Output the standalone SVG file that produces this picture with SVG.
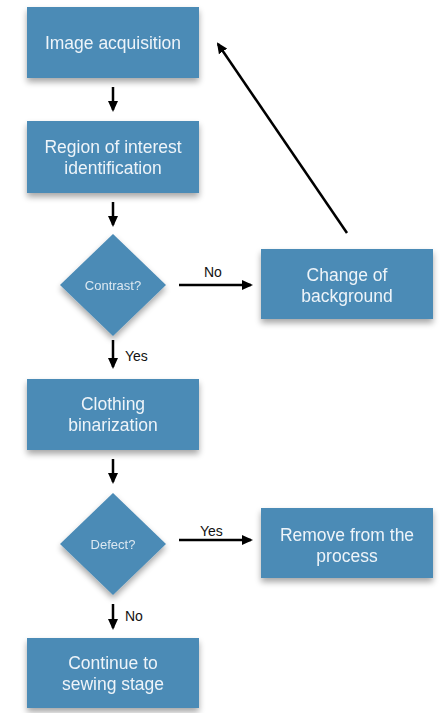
<svg xmlns="http://www.w3.org/2000/svg" width="440" height="713" viewBox="0 0 440 713">
<defs>
<style>
.box{fill:#4b8bb6}
.t{font-family:"Liberation Sans",Arial,sans-serif;font-size:17.5px;fill:#eef4f9;text-anchor:middle}
.ts{font-family:"Liberation Sans",Arial,sans-serif;font-size:13px;fill:#dce8f1;text-anchor:middle}
.lbl{font-family:"Liberation Sans",Arial,sans-serif;font-size:14px;fill:#111}
.c{stroke:#000;stroke-width:2.5;fill:none;marker-end:url(#ah)}
</style>
<marker id="ah" markerWidth="11" markerHeight="11" refX="9" refY="5.5" orient="auto" markerUnits="userSpaceOnUse" viewBox="0 0 11 11">
<path d="M0,0.5 L11,5.5 L0,10.5 z" fill="#000"/>
</marker>
<filter id="sh" x="-20%" y="-20%" width="140%" height="160%">
<feGaussianBlur in="SourceAlpha" stdDeviation="3"/>
<feOffset dy="4" result="b"/>
<feComponentTransfer><feFuncA type="linear" slope="0.35"/></feComponentTransfer>
<feMerge><feMergeNode/><feMergeNode in="SourceGraphic"/></feMerge>
</filter>
</defs>
<rect width="440" height="713" fill="#fff"/>
<g id="n1" filter="url(#sh)"><rect class="box" x="27" y="7" width="172" height="71"/><text class="t" x="113" y="49">Image acquisition</text></g>
<g id="n2" filter="url(#sh)"><rect class="box" x="27" y="121" width="172" height="72"/><text class="t" x="113" y="153">Region of interest</text><text class="t" x="113" y="174">identification</text></g>
<g id="n3" filter="url(#sh)"><polygon class="box" points="113,234 166,285 113,336 60,285"/><text class="ts" x="113" y="290">Contrast?</text></g>
<g id="n4" filter="url(#sh)"><rect class="box" x="261" y="249" width="172" height="70"/><text class="t" x="347" y="281">Change of</text><text class="t" x="347" y="302">background</text></g>
<g id="n5" filter="url(#sh)"><rect class="box" x="27" y="379" width="172" height="71"/><text class="t" x="113" y="410">Clothing</text><text class="t" x="113" y="431">binarization</text></g>
<g id="n6" filter="url(#sh)"><polygon class="box" points="113,493 166,544 113,595 60,544"/><text class="ts" x="113" y="549">Defect?</text></g>
<g id="n7" filter="url(#sh)"><rect class="box" x="261" y="508" width="172" height="70"/><text class="t" x="347" y="541">Remove from the</text><text class="t" x="347" y="562">process</text></g>
<g id="n8" filter="url(#sh)"><rect class="box" x="27" y="638" width="172" height="70"/><text class="t" x="113" y="669">Continue to</text><text class="t" x="113" y="690">sewing stage</text></g>
<g id="connectors">
<line class="c" x1="113" y1="87" x2="113" y2="110"/>
<line class="c" x1="113" y1="202" x2="113" y2="225"/>
<line class="c" x1="179" y1="285" x2="251" y2="285"/>
<line class="c" x1="347" y1="233" x2="218" y2="44"/>
<line class="c" x1="113" y1="340" x2="113" y2="367"/>
<line class="c" x1="113" y1="459" x2="113" y2="482"/>
<line class="c" x1="179" y1="540" x2="251" y2="540"/>
<line class="c" x1="113" y1="604" x2="113" y2="628"/>
<text class="lbl" x="204" y="277">No</text>
<text class="lbl" x="125" y="361">Yes</text>
<text class="lbl" x="200" y="536">Yes</text>
<text class="lbl" x="125" y="621">No</text>
</g>
</svg>
